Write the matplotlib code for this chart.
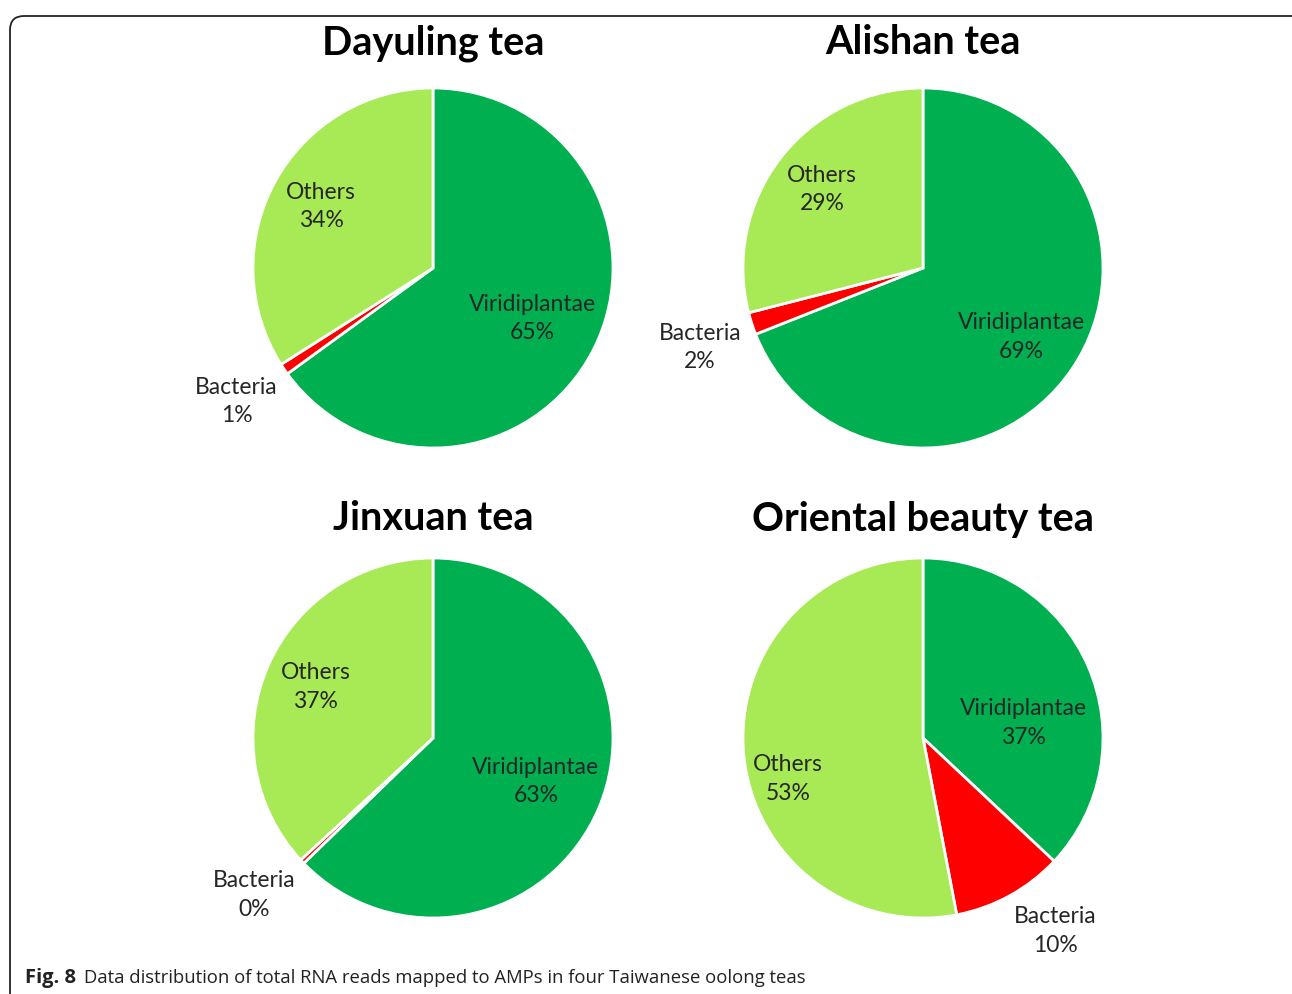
import numpy as np
import matplotlib.pyplot as plt
from matplotlib.patches import FancyBboxPatch

titles = ['Dayuling tea', 'Alishan tea', 'Jinxuan tea', 'Oriental beauty tea']
categories = ['Viridiplantae', 'Bacteria', 'Others']
dayuling = [65, 1, 34]
alishan = [69, 2, 29]
jinxuan = [63, 0.4, 37]
oriental = [37, 10, 53]
colors = ['#00B050', '#FF0000', '#A8E956']

series = [dayuling, alishan, jinxuan, oriental]
# centres in pixels (y up), radius in pixels
centers = [(433, 726), (923, 726), (433, 256), (923, 256)]
title_gap = [45, 45, 39, 39]
R = 180
label_r = {'Viridiplantae': 0.62, 'Bacteria': 1.32, 'Others': 0.71}
# small manual nudges (px) like excel's "best fit"
nudge = {(1, 'Viridiplantae'): (6, -6), (1, 'Bacteria'): (3, -6),
         (3, 'Viridiplantae'): (-2, -29), (3, 'Others'): (-8, -29),
         (3, 'Bacteria'): (18, 15), (2, 'Bacteria'): (-6, 6)}

W, H = 1292, 994
fig = plt.figure(figsize=(W / 100, H / 100), dpi=100)
ax = fig.add_axes([0, 0, 1, 1])

for i, (vals, title, (cx, cy)) in enumerate(zip(series, titles, centers)):
    wedges, _ = ax.pie(vals, colors=colors, startangle=90, counterclock=False,
                       center=(cx, cy), radius=R,
                       wedgeprops=dict(edgecolor='white', linewidth=2))
    for w, cat, v in zip(wedges, categories, vals):
        mid = np.deg2rad((w.theta1 + w.theta2) / 2)
        r = label_r[cat] * R
        dx, dy = nudge.get((i, cat), (0, 0))
        ax.text(cx + r * np.cos(mid) + dx, cy + r * np.sin(mid) + dy, f'{cat}\n{v:.0f}%',
                ha='center', va='center', fontsize=16.5, family='Lato',
                color='#262626', linespacing=1.45)
    ax.text(cx, cy + R + title_gap[i], title, ha='center', va='center', fontsize=28.5,
            family='Lato', fontweight='bold', color='black')

ax.set_xlim(0, W)
ax.set_ylim(0, H)
ax.set_aspect('auto')
ax.axis('off')

border = FancyBboxPatch((10, -40), W + 40, H - 8 + 40 - 8,
                        boxstyle='round,pad=0,rounding_size=14',
                        fill=False, edgecolor='#222222', linewidth=1.3, clip_on=False)
ax.add_patch(border)

fig.text(25 / W, 16 / H, 'Fig. 8', ha='left', va='center', fontsize=14.5,
         family='Open Sans', fontweight='bold', color='#222222')
fig.text(84 / W, 16 / H, 'Data distribution of total RNA reads mapped to AMPs in four Taiwanese oolong teas',
         ha='left', va='center', fontsize=13.3, family='Open Sans', color='#222222')

fig.savefig('out.png', dpi=100)
